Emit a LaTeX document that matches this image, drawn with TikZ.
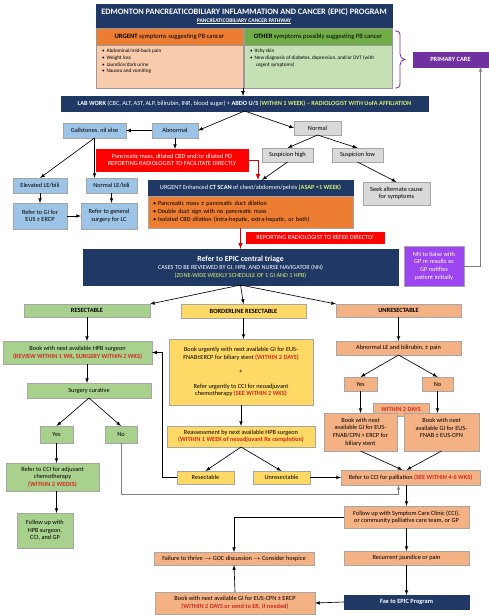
\documentclass[tikz,border=0pt]{standalone}
\usepackage{fontspec}
\setmainfont{Carlito}

\definecolor{epicnavy}{HTML}{1F3864}
\definecolor{epicorange}{HTML}{ED7D31}
\definecolor{epicpeach}{HTML}{F8CBAD}
\definecolor{epicgreen}{HTML}{70AD47}
\definecolor{epiclgreen}{HTML}{C5E0B4}
\definecolor{epicblue}{HTML}{9DC3E6}
\definecolor{epicgray}{HTML}{D9D9D9}
\definecolor{epicred}{HTML}{FF0000}
\definecolor{epicrgreen}{HTML}{A9D18E}
\definecolor{epicyellow}{HTML}{FFD966}
\definecolor{epicsalmon}{HTML}{F4B183}
\definecolor{epicpurple}{HTML}{7030A0}
\definecolor{epicviolet}{HTML}{9C45F0}
\definecolor{epicyel}{HTML}{DDEE6E}
\definecolor{epictred}{HTML}{D42A1E}

\newcommand{\due}[1]{\textcolor{epictred}{\textbf{#1}}}

\begin{document}
\begin{tikzpicture}[x=1pt, y=-1pt,
  every node/.style={draw=black!40, line width=0.4pt, inner sep=1pt, outer sep=0pt,
    anchor=north west, align=center, font=\fontsize{6.3}{7.6}\selectfont},
  sz/.style 2 args={minimum width=#1pt, minimum height=#2pt},
  navybox/.style={fill=epicnavy, draw=epicnavy, text=white},
  bluebox/.style={fill=epicblue, draw=black!35},
  graybox/.style={fill=epicgray, draw=black!35},
  redbox/.style={fill=epicred, draw=epicred, text=white},
  greenbox/.style={fill=epicrgreen, draw=black!35},
  yellowbox/.style={fill=epicyellow, draw=black!35},
  salmonbox/.style={fill=epicsalmon, draw=black!35},
  headfont/.style={font=\bfseries\fontsize{6.4}{7.6}\selectfont},
  arr/.style={-latex, line width=0.65pt},
  redarr/.style={-latex, line width=1pt, epicred!85!black}]

  \useasboundingbox (0,0) rectangle (488,615);

  % primary care part
  \node[navybox, sz={296}{24}] (title) at (96,4)
    {{\fontsize{8.3}{10}\selectfont\bfseries EDMONTON PANCREATICOBILIARY INFLAMMATION AND CANCER (EPIC) PROGRAM}\\[0.5pt]
     {\fontsize{5.6}{6.5}\selectfont\bfseries\underline{PANCREATICOBILIARY CANCER PATHWAY}}};
  \node[fill=epicorange, sz={147}{17}, font=\fontsize{6.6}{7.6}\selectfont] (urgent) at (96,28)
    {\textbf{URGENT} symptoms suggesting PB cancer};
  \node[fill=epicgreen, sz={148}{17}, font=\fontsize{6.6}{7.6}\selectfont] (other) at (244,28)
    {\textbf{OTHER} symptoms possibly suggesting PB cancer};
  \node[fill=epicpeach, sz={147}{43}, inner sep=3pt] (urgentlist) at (96,45)
    {\parbox[c][37pt][t]{141pt}{\fontsize{5.2}{6.7}\selectfont\raggedright\vspace*{1pt}
      \hspace*{3pt}\textbullet\hspace{2pt}Abdominal/mid-back pain\\
      \hspace*{3pt}\textbullet\hspace{2pt}Weight loss\\
      \hspace*{3pt}\textbullet\hspace{2pt}Jaundice/dark urine\\
      \hspace*{3pt}\textbullet\hspace{2pt}Nausea and vomiting}};
  \node[fill=epiclgreen, sz={148}{43}, inner sep=3pt] (otherlist) at (244,45)
    {\parbox[c][37pt][t]{142pt}{\fontsize{5.2}{6.7}\selectfont\raggedright\vspace*{1pt}
      \hspace*{3pt}\textbullet\hspace{2pt}Itchy skin\\
      \hspace*{3pt}\textbullet\hspace{2pt}New diagnosis of diabetes, depression, and/or DVT (with\\
      \hspace*{9pt}urgent symptoms)}};
  % brace round both symptom boxes
  \draw[epicpurple, line width=0.8pt] (395,31) .. controls (399,31) and (400,32) .. (400,36) -- (400,54)
    .. controls (400,57) and (402,59.5) .. (405,59.5) .. controls (402,59.5) and (400,62) .. (400,65)
    -- (400,83) .. controls (400,87) and (399,88) .. (395,88);
  \node[fill=epicpurple, draw=epicpurple, text=white, sz={75}{15}, headfont] (primary) at (413,52) {PRIMARY CARE};

  % lab work and ultrasound
  \node[navybox, sz={367}{15}] (labwork) at (61,96)
    {\textbf{LAB WORK} (CBC, ALT, AST, ALP, bilirubin, INR, blood sugar) + \textbf{ABDO U/S}
     \textcolor{epicyel}{\textbf{(WITHIN 1 WEEK) – RADIOLOGIST WITH UofA AFFILIATION}}};
  \node[bluebox, sz={46}{15}] (abnormal) at (152,123) {Abnormal};
  \node[bluebox, sz={63}{15}] (gallstones) at (63,123) {Gallstones, nil else};
  \node[graybox, sz={47}{14}] (normal) at (294,121) {Normal};
  \node[redbox, sz={152}{22}] (mass) at (96,149)
    {Pancreatic mass, dilated CBD and/or dilated PD\\REPORTING RADIOLOGIST TO FACILITATE DIRECTLY};
  \node[graybox, sz={51}{14}] (susphigh) at (262,148) {Suspicion high};
  \node[graybox, sz={51}{14}] (susplow) at (332,148) {Suspicion low};
  \node[graybox, sz={67}{23}] (seek) at (363,182) {Seek alternate cause\\for symptoms};
  \node[bluebox, sz={54}{15}] (elevated) at (13,178) {Elevated LE/bili};
  \node[bluebox, sz={51}{15}] (normalle) at (86,178) {Normal LE/bili};
  \node[bluebox, sz={54}{26}] (refergi) at (13,203) {Refer to GI for\\EUS ± ERCP};
  \node[bluebox, sz={56}{26}] (refersurg) at (81,203) {Refer to general\\surgery for LC};

  % CT scan and triage
  \node[navybox, sz={205}{16}] (ctscan) at (148,180)
    {URGENT Enhanced \textbf{CT SCAN} of chest/abdomen/pelvis \textcolor{epicyel}{\textbf{(ASAP <1 WEEK)}}};
  \node[fill=epicorange, draw=black!35, sz={205}{32}, align=left, text width=195pt,
    font=\fontsize{6.2}{8.3}\selectfont] (ctlist) at (148,196)
    {\textbullet\ Pancreatic mass ± pancreatic duct dilation\\
     \textbullet\ Double duct sign with no pancreatic mass\\
     \textbullet\ Isolated CBD dilation (intra-hepatic, extra-hepatic, or both)};
  \node[redbox, sz={138}{11}, font=\fontsize{6.3}{7}\selectfont] (referdirect) at (246,232)
    {REPORTING RADIOLOGIST TO REFER DIRECTLY};
  \node[navybox, sz={315}{36}, font=\fontsize{6.2}{7.8}\selectfont] (triage) at (83,249)
    {{\fontsize{7.8}{9}\selectfont\bfseries Refer to EPIC central triage}\\
     CASES TO BE REVIEWED BY GI, HPB, AND NURSE NAVIGATOR (NN)\\
     \textcolor{epicyel}{(ZONE-WIDE WEEKLY SCHEDULE OF 1 GI AND 1 HPB)}};
  \node[fill=epicviolet, draw=black!35, text=white, sz={60}{40}] (liaise) at (404,246)
    {NN to liaise with\\GP re results so\\GP notifies\\patient initially};

  % resectable
  \node[greenbox, sz={126}{13}, headfont] (resectable) at (24,304) {RESECTABLE};
  \node[greenbox, sz={149}{23}] (bookhpb) at (3,341)
    {Book with next available HPB surgeon\\\due{(REVIEW WITHIN 1 WK, SURGERY WITHIN 2 WKS)}};
  \node[greenbox, sz={124}{15}] (curative) at (27,383) {Surgery curative};
  \node[greenbox, sz={33}{17}] (cyes) at (40,426) {Yes};
  \node[greenbox, sz={32}{17}] (cno) at (105,426) {No};
  \node[greenbox, sz={93}{28}] (adjuvant) at (6,463)
    {Refer to CCI for adjuvant\\chemotherapy\\\due{(WITHIN 2 WEEKS)}};
  \node[greenbox, sz={56}{35}] (followhpb) at (17,513) {Follow up with\\HPB surgeon,\\CCI, and GP};

  % borderline
  \node[yellowbox, sz={125}{14}, headfont] (borderline) at (181,304) {BORDERLINE RESECTABLE};
  \node[yellowbox, sz={144}{66}] (bookurgent) at (169,339)
    {Book urgently with next available GI for EUS-\\FNAB±ERCP for biliary stent \due{(WITHIN 2 DAYS)}\\[7pt]
     +\\[7pt]
     Refer urgently to CCI for neoadjuvant\\chemotherapy \due{(SEE WITHIN 2 WKS)}};
  \node[yellowbox, sz={148}{21}] (reassess) at (167,426)
    {Reassessment by next available HPB surgeon\\\due{(WITHIN 1 WEEK of neoadjuvant Rx completion)}};
  \node[yellowbox, sz={57}{13}] (bresect) at (177,471) {Resectable};
  \node[yellowbox, sz={57}{13}] (bunresect) at (253,471) {Unresectable};

  % unresectable
  \node[salmonbox, sz={125}{13}, headfont] (unresectable) at (336,304) {UNRESECTABLE};
  \node[salmonbox, sz={125}{14}] (abnormalle) at (336,341) {Abnormal LE and bilirubin, ± pain};
  \node[salmonbox, sz={33}{14}] (uyes) at (344,377) {Yes};
  \node[salmonbox, sz={31}{14}] (uno) at (422,377) {No};
  \node[salmonbox, sz={56}{13}] (twodays) at (373,403) {\due{WITHIN 2 DAYS}};
  \node[salmonbox, sz={73}{38}] (bookyes) at (324,413)
    {Book with next\\available GI for EUS-\\FNAB/CPN + ERCP for\\biliary stent};
  \node[salmonbox, sz={75}{38}] (bookno) at (404,413)
    {Book with next\\available GI for EUS-\\FNAB ± EUS-CPN\\\mbox{}};
  \node[salmonbox, sz={139}{15}] (palliation) at (341,470)
    {Refer to CCI for palliation \due{(SEE WITHIN 4-6 WKS)}};
  \node[salmonbox, sz={125}{22}] (followscc) at (344,506)
    {Follow up with Symptom Care Clinic (CCI),\\or community palliative care team, or GP};
  \node[salmonbox, sz={160}{13}] (failure) at (154,552)
    {Failure to thrive \ensuremath{\rightarrow} GOC discussion \ensuremath{\rightarrow} Consider hospice};
  \node[salmonbox, sz={125}{14}] (recurrent) at (344,551) {Recurrent jaundice or pain};
  \node[navybox, sz={125}{14}, headfont] (fax) at (344,595) {Fax to EPIC Program};
  \node[salmonbox, sz={160}{22}] (bookcpn) at (155,592)
    {Book with next available GI for EUS-CPN ± ERCP\\\due{(WITHIN 2 DAYS or send to ER, if needed)}};

  % connectors
  \draw[arr] (urgentlist.south east) -- (urgentlist.south east |- labwork.north);
  \draw[arr] (labwork.south) -- (abnormal.east);
  \draw[arr] (labwork.south) -- (normal.west);
  \draw[arr] (abnormal.west) -- (gallstones.east);
  \draw[arr] (abnormal.south) -- (abnormal.south |- mass.north);
  \draw[redarr] (mass.east) -| ([xshift=7.5pt]ctscan.north);
  \draw[arr] (normal.south) -- (susphigh.north);
  \draw[arr] (normal.south) -- (susplow.north);
  \draw[arr] (susphigh.south) -- ([xshift=11.5pt]ctscan.north);
  \draw[arr] (susplow.south) -- (seek.north);
  \draw[arr] (gallstones.south) -- (elevated.north);
  \draw[arr] (gallstones.south) -- (gallstones.south |- normalle.north);
  \draw[arr] (elevated.south) -- (refergi.north);
  \draw[arr] (normalle.south) -- (normalle.south |- refersurg.north);
  \draw[arr] (refergi.east) -- (refersurg.west);
  \draw[redarr] (triage.north |- ctlist.south) -- (triage.north);
  \draw[gray, line width=0.6pt, -latex] (liaise.east) -| ([xshift=30pt]primary.south);

  \draw[arr] (triage.south) -- (resectable.north east);
  \draw[arr] (triage.south) -- (borderline.north);
  \draw[arr] (triage.south) -- (unresectable.north west);

  \draw[arr] (resectable.south) -- (resectable.south |- bookhpb.north);
  \draw[arr] (resectable.south |- bookhpb.south) -- (resectable.south |- curative.north);
  \draw[arr] (curative.south) -- (cyes.north);
  \draw[arr] (curative.south) -- (cno.north);
  \draw[arr] (cyes.south) -- (cyes.south |- adjuvant.north);
  \draw[arr] (cyes.south |- adjuvant.south) -- (cyes.south |- followhpb.north);
  \draw[gray, line width=0.6pt, -latex] (cno.south) -- ++(0,51) -| ([xshift=-12pt]palliation.south);

  \draw[arr] (borderline.south) -- (borderline.south |- bookurgent.north);
  \draw[arr] (bookurgent.south) -- (reassess.north);
  \draw[arr] (reassess.south) -- (bresect.north);
  \draw[arr] (reassess.south) -- (bunresect.north);
  \draw[arr] (bresect.west) -- ++(-15,0) |- (bookhpb.east);
  \draw[arr] (bunresect.east) -- (palliation.west);

  \draw[arr] (unresectable.south) -- (abnormalle.north);
  \draw[arr] (abnormalle.south) -- (uyes.north);
  \draw[arr] (abnormalle.south) -- (uno.north);
  \draw[arr] (uyes.south) -- (bookyes.north);
  \draw[arr] (uno.south) -- (uno.south |- bookno.north);
  \draw[arr] (bookyes.south) -- ([xshift=-8pt]palliation.north);
  \draw[arr] (bookno.south) -- ([xshift=-4pt]palliation.north);
  \draw[arr] (followscc.north |- palliation.south) -- (followscc.north);
  \draw[arr] (followscc.west) -| (failure.north);
  \draw[arr] (followscc.south) -- (recurrent.north);
  \draw[arr] (recurrent.south) -- (fax.north);
  \draw[arr] (fax.west) -- (bookcpn.east);
  \draw[arr] (bookcpn.north) -- (failure.south);
\end{tikzpicture}
\end{document}
